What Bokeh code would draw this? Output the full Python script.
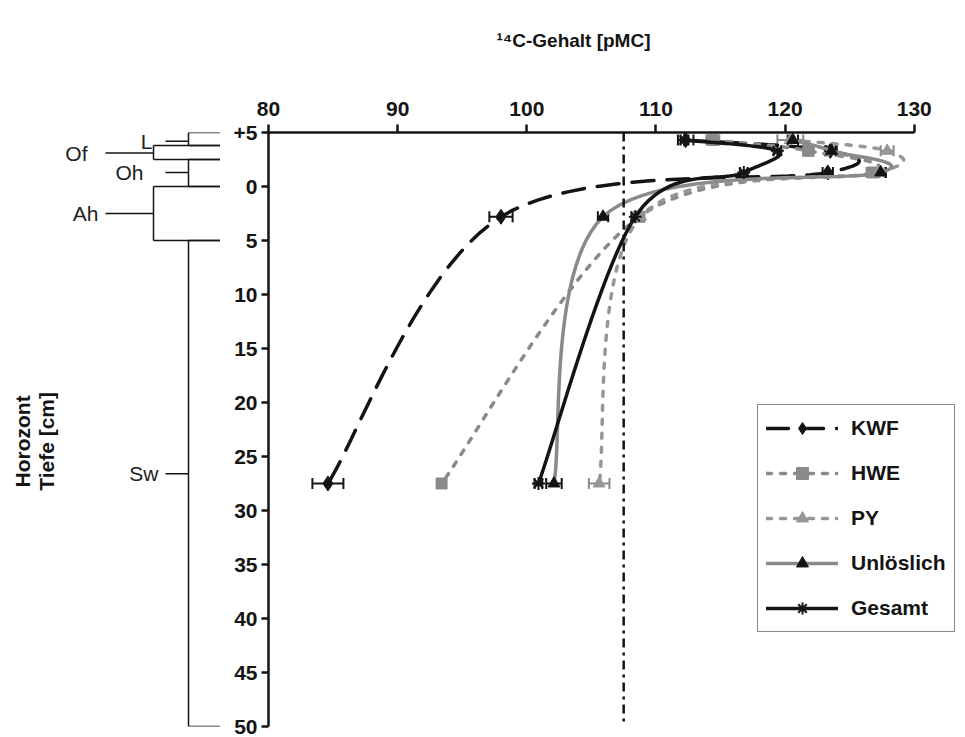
import numpy as np
from bokeh.plotting import figure
from bokeh.models import (Range1d, FixedTicker, Span, Whisker, TeeHead, ColumnDataSource,
                          Legend, LegendItem)
from bokeh.layouts import row, column
from bokeh.core.properties import value
from bokeh.embed import file_html
from bokeh.resources import INLINE

# ---------------- data ----------------
depths = [-4.3, -3.3, -1.3, 2.8, 27.5]          # cm (negative = above mineral soil)

kwf = [112.3, 123.5, 123.3, 98.0, 84.6]
kwf_err = [0.6, 0.4, 0.4, 0.9, 1.2]
hwe = [114.4, 121.8, 126.8, 108.7, 93.4]
hwe_err = [0.5, 0.4, 0.5, 0.3, 0.2]
py = [120.4, 127.9, 127.2, 108.8, 105.6]
py_err = [1.0, 0.5, 0.5, 0.3, 0.8]
unl = [120.6, 123.6, 127.4, 105.9, 102.1]
unl_err = [0.4, 0.4, 0.4, 0.4, 0.6]
ges = [112.2, 119.4, 116.8, 108.4, 100.9]
ges_err = [0.3, 0.3, 0.3, 0.3, 0.3]

reference_pmc = 107.5

x_ticks = [80, 90, 100, 110, 120, 130]
y_ticks = [-5, 0, 5, 10, 15, 20, 25, 30, 35, 40, 45, 50]
y_tick_labels = ["+5", "0", "5", "10", "15", "20", "25", "30", "35", "40", "45", "50"]

hz_names = ["L", "Of", "Oh", "Ah", "Sw"]
hz_top = [-5.0, -3.8, -2.5, 0.0, 5.0]
hz_bottom = [-3.8, -2.5, 0.0, 5.0, 50.0]
hz_label_depth = [-4.2, -3.1, -1.3, 2.5, 26.6]

x_title = "\u00b9\u2074C-Gehalt [pMC]"
y_title = "Horozont\nTiefe [cm]"

# ---------------- style ----------------
FONT = "Liberation Sans Narrow, Liberation Sans, Arial"
BLACK = "#141414"
GRAY = "#8a8a8a"
LGRAY = "#969696"
HEADER_H = 60
BOTTOM = 11


def smooth(xs, ys, n=24):
    P = np.column_stack([xs, ys]).astype(float)
    m = len(P)
    out = []
    t = np.linspace(0, 1, n)[:, None]
    for i in range(m - 1):
        p0 = P[max(i - 1, 0)]
        p1 = P[i]
        p2 = P[i + 1]
        p3 = P[min(i + 2, m - 1)]
        c1 = p1 + (p2 - p0) / 6.0
        c2 = p2 - (p3 - p1) / 6.0
        seg = (1 - t) ** 3 * p1 + 3 * (1 - t) ** 2 * t * c1 + 3 * (1 - t) * t ** 2 * c2 + t ** 3 * p2
        out.append(seg if i == 0 else seg[1:])
    S = np.vstack(out)
    return S[:, 0], S[:, 1]


def bare(fig):
    fig.grid.visible = False
    fig.outline_line_color = None
    return fig


y_range = Range1d(50, -5)
PH = 737 - HEADER_H

# ---------------- main chart ----------------
p = bare(figure(width=48 + 691 + 4, height=PH, x_range=Range1d(80, 133.5), y_range=y_range,
                x_axis_location="above", y_axis_location="left",
                output_backend="svg", toolbar_location=None,
                min_border_left=48, min_border_right=4, min_border_top=132 - HEADER_H,
                min_border_bottom=BOTTOM))

xa = p.xaxis[0]
xa.ticker = FixedTicker(ticks=x_ticks)
xa.bounds = (x_ticks[0], x_ticks[-1])
xa.major_label_text_font = FONT
xa.major_label_text_font_style = "bold"
xa.major_label_text_font_size = "21px"
xa.major_label_text_color = BLACK
xa.major_label_standoff = 9
xa.axis_line_width = 2.5
xa.axis_line_color = BLACK
xa.major_tick_line_width = 2.5
xa.major_tick_line_color = BLACK
xa.major_tick_out = 8
xa.major_tick_in = 0
xa.minor_tick_line_color = None

ya = p.yaxis[0]
ya.ticker = FixedTicker(ticks=y_ticks)
ya.major_label_overrides = {t: s for t, s in zip(y_ticks, y_tick_labels)}
ya.major_label_text_font = FONT
ya.major_label_text_font_style = "bold"
ya.major_label_text_font_size = "21px"
ya.major_label_text_color = BLACK
ya.major_label_standoff = 4
ya.axis_line_width = 2.5
ya.axis_line_color = BLACK
ya.major_tick_line_width = 2.5
ya.major_tick_line_color = BLACK
ya.major_tick_out = 7
ya.major_tick_in = 0
ya.minor_tick_line_color = None

p.add_layout(Span(location=reference_pmc, dimension="height", line_color=BLACK,
                  line_width=2.5, line_dash="9 5 3 5"))

series = [
    dict(name="KWF", v=kwf, e=kwf_err, lc=BLACK, dash="22 13", lw=3.5,
         marker="diamond", mc=BLACK, size=15, ec=BLACK),
    dict(name="HWE", v=hwe, e=hwe_err, lc=GRAY, dash="5 9", lw=3.5,
         marker="square", mc=GRAY, size=11, ec=GRAY),
    dict(name="PY", v=py, e=py_err, lc=LGRAY, dash="5 9", lw=3.5,
         marker="triangle", mc=LGRAY, size=12, ec=GRAY),
    dict(name="Unl\u00f6slich", v=unl, e=unl_err, lc=GRAY, dash="solid", lw=3.5,
         marker="triangle", mc=BLACK, size=12, ec=BLACK),
    dict(name="Gesamt", v=ges, e=ges_err, lc=BLACK, dash="solid", lw=3.5,
         marker="asterisk", mc=BLACK, size=13, ec=BLACK),
]

items = []
for s in series:
    sx, sy = smooth(s["v"], depths)
    lr = p.line(sx, sy, line_color=s["lc"], line_width=s["lw"], line_dash=s["dash"],
                line_cap="round")
    lo = [a - b for a, b in zip(s["v"], s["e"])]
    hi = [a + b for a, b in zip(s["v"], s["e"])]
    src = ColumnDataSource(dict(base=depths, lower=lo, upper=hi))
    w = Whisker(source=src, base="base", lower="lower", upper="upper", dimension="width",
                line_color=s["ec"], line_width=2,
                upper_head=TeeHead(size=11, line_color=s["ec"], line_width=2),
                lower_head=TeeHead(size=11, line_color=s["ec"], line_width=2))
    p.add_layout(w)
    if s["marker"] == "asterisk":
        mr = p.scatter(s["v"], depths, marker="asterisk", size=s["size"],
                       line_color=s["mc"], line_width=2)
    else:
        mr = p.scatter(s["v"], depths, marker=s["marker"], size=s["size"],
                       fill_color=s["mc"], line_color=s["mc"])
    items.append(LegendItem(label=s["name"], renderers=[lr, mr]))

legend = Legend(items=items, location=(489, 102 - (BOTTOM - 3)),
                glyph_width=72, glyph_height=30, spacing=15, padding=8, margin=0,
                label_standoff=13, label_text_font=FONT, label_text_font_style="bold",
                label_text_font_size="21px", label_text_color=BLACK,
                border_line_color=BLACK, border_line_width=1.5,
                background_fill_color="white", background_fill_alpha=1.0)
p.add_layout(legend)

# ---------------- horizon diagram (left) ----------------
pl = bare(figure(width=220, height=PH, x_range=Range1d(0, 220), y_range=y_range,
                 x_axis_location=None, y_axis_location=None,
                 output_backend="svg", toolbar_location=None,
                 min_border_left=0, min_border_right=0, min_border_top=132 - HEADER_H,
                 min_border_bottom=BOTTOM))

XEND = 220
bx = [188 if i % 2 == 0 else 153 for i in range(len(hz_names))]
lead = [165 if i % 2 == 0 else 105 for i in range(len(hz_names))]
label_gap = [13, 18, 22, 7, 7]

pl.segment(x0=bx, y0=hz_top, x1=bx, y1=hz_bottom, line_color=BLACK, line_width=1.5)
pl.segment(x0=bx + bx, y0=hz_top + hz_bottom, x1=[XEND] * (2 * len(bx)),
           y1=hz_top + hz_bottom, line_color=BLACK, line_width=1.5)
pl.segment(x0=lead, y0=hz_label_depth, x1=bx, y1=hz_label_depth, line_color=BLACK, line_width=1.5)
pl.text(x=[l - g for l, g in zip(lead, label_gap)], y=hz_label_depth, text=hz_names,
        text_align="right", text_baseline="middle",
        text_font=value("Liberation Sans"), text_font_size="21px", text_color="#222222")

pl.text(x=[34], y=[23.6], text=[y_title], angle=np.pi / 2,
        text_align="center", text_baseline="middle", text_line_height=1.05,
        text_font=value(FONT), text_font_style="bold", text_font_size="21px",
        text_color=BLACK)

# ---------------- header with the x-axis title ----------------
ph = bare(figure(width=220 + 48 + 691 + 4, height=HEADER_H,
                 x_range=Range1d(0, 220 + 48 + 691 + 4), y_range=Range1d(HEADER_H, 0),
                 x_axis_location=None, y_axis_location=None,
                 output_backend="svg", toolbar_location=None,
                 min_border_left=0, min_border_right=0, min_border_top=0, min_border_bottom=0))
ph.text(x=[573], y=[40], text=[x_title], text_align="center", text_baseline="middle",
        text_font=value(FONT), text_font_style="bold", text_font_size="19px",
        text_color=BLACK)

layout = column(ph, row(pl, p))
open("out.html", "w").write(file_html(layout, INLINE))
